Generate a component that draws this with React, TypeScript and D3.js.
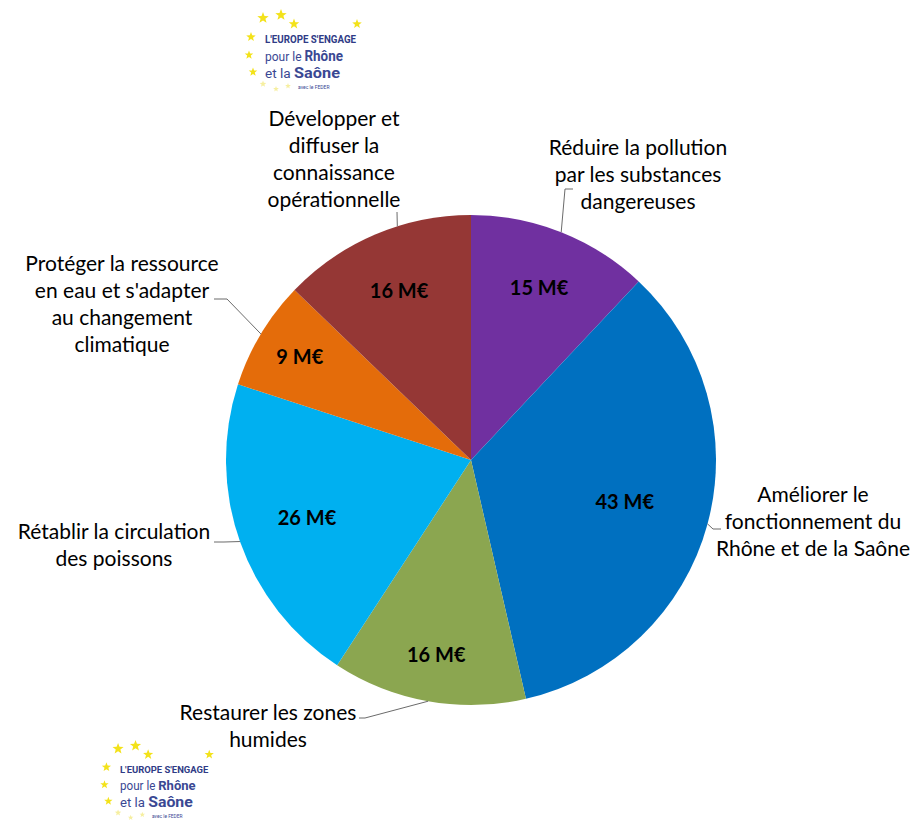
import React, { useEffect, useRef } from 'react';
import * as d3 from 'd3';

// Montants FEDER par objectif (M€), dans l'ordre horaire depuis midi
const categories = [
  "Réduire la pollution par les substances dangereuses",
  "Améliorer le fonctionnement du Rhône et de la Saône",
  "Restaurer les zones humides",
  "Rétablir la circulation des poissons",
  "Protéger la ressource en eau et s'adapter au changement climatique",
  "Développer et diffuser la connaissance opérationnelle",
];
const labelLines = [
  ["Réduire la pollution", "par les substances", "dangereuses"],
  ["Améliorer le", "fonctionnement du", "Rhône et de la Saône"],
  ["Restaurer les zones", "humides"],
  ["Rétablir la circulation", "des poissons"],
  ["Protéger la ressource", "en eau et s'adapter", "au changement", "climatique"],
  ["Développer et", "diffuser la", "connaissance", "opérationnelle"],
];
const values = [15, 43, 16, 26, 9, 16];
const unit = "M€";
const colors = ["#7030a0", "#0070c0", "#8ba650", "#00b0f0", "#e46c0a", "#953735"];

// layout
const W = 916, H = 822;
const cx = 471, cy = 460, R = 245;
const FONT = "Lato, 'Open Sans', sans-serif";
const LINE_H = 27;
const valueLabelRadius = [0.755, 0.65, 0.81, 0.71, 0.815, 0.75];
const labelAnchor = [
  { x: 638, y: 155 }, { x: 813, y: 502 }, { x: 268, y: 720 },
  { x: 114, y: 539 }, { x: 122, y: 271 }, { x: 334, y: 126 },
];
// leader elbows, relative to label anchor; last point goes to the arc
const leaderElbows: [number, number][][] = [
  [[-65, 34], [-73, 34]],
  [[-92, 27], [-100, 27]],
  [[91, -2], [97, -2]],
  [[100, 3], [110, 3]],
  [[92, 28], [105, 28]],
  [[63, 86]],
];
const leaderAngleOverride: (number | null)[] = [null, null, null, null, null, 342.5];

// logo: stars as [x, y, outer radius, faint]
const logoStars: [number, number, number, number][] = [
  [-2, -25, 6, 0], [16, -28, 6, 0], [29, -19, 5.5, 0], [92, -19, 5, 0],
  [-14, -6, 5, 0], [-16, 12, 4.5, 0], [-12, 29, 4.5, 0],
  [-2, 41, 3.5, 1], [11, 46, 3, 1], [23, 43, 3, 1],
];
const logoPlacement = [
  { x: 265, y: 43, s: 1 },
  { x: 120, y: 773, s: 0.97 },
];

const starPath = (r: number) => {
  const pts: [number, number][] = [];
  for (let i = 0; i < 10; i++) {
    const a = (Math.PI / 5) * i - Math.PI / 2;
    const rr = i % 2 === 0 ? r : r * 0.42;
    pts.push([Math.cos(a) * rr, Math.sin(a) * rr]);
  }
  return "M" + pts.map(p => p.join(",")).join("L") + "Z";
};

const App: React.FC = () => {
  const svgRef = useRef<SVGSVGElement | null>(null);

  useEffect(() => {
    if (!svgRef.current) return;
    const svg = d3.select(svgRef.current);
    svg.selectAll("*").remove();

    svg.append("rect").attr("width", W).attr("height", H).attr("fill", "#fff");

    const pie = d3.pie<number>().sort(null).value(d => d);
    const arcs = pie(values);
    const arc = d3.arc<d3.PieArcDatum<number>>().innerRadius(0).outerRadius(R);
    const mid = (d: d3.PieArcDatum<number>) => (d.startAngle + d.endAngle) / 2;
    const polar = (a: number, r: number): [number, number] => [cx + Math.sin(a) * r, cy - Math.cos(a) * r];

    const g = svg.append("g").attr("transform", `translate(${cx},${cy})`);
    g.selectAll("path")
      .data(arcs)
      .join("path")
        .attr("d", arc)
        .attr("fill", (_, i) => colors[i]);

    // leader lines
    const line = d3.line();
    arcs.forEach((d, i) => {
      const a0 = labelAnchor[i];
      const pts: [number, number][] = leaderElbows[i].map(([dx, dy]) => [a0.x + dx, a0.y + dy]);
      const ov = leaderAngleOverride[i];
      pts.push(polar(ov == null ? mid(d) : (ov * Math.PI) / 180, R));
      svg.append("path")
        .attr("d", line(pts))
        .attr("fill", "none")
        .attr("stroke", "#6b6b6b")
        .attr("stroke-width", 1);
    });

    // value labels
    svg.append("g")
      .selectAll("text")
      .data(arcs)
      .join("text")
        .attr("x", (d, i) => polar(mid(d), R * valueLabelRadius[i])[0])
        .attr("y", (d, i) => polar(mid(d), R * valueLabelRadius[i])[1])
        .attr("dy", "0.35em")
        .attr("text-anchor", "middle")
        .attr("font-family", FONT)
        .attr("font-weight", "bold")
        .attr("font-size", 20)
        .attr("fill", "#000")
        .text(d => `${d.data} ${unit}`);

    // category labels
    const lab = svg.append("g")
      .attr("font-family", FONT)
      .attr("font-size", 21)
      .attr("fill", "#000")
      .attr("text-anchor", "middle");
    labelLines.forEach((lines, i) => {
      const t = lab.append("text").attr("aria-label", categories[i]);
      lines.forEach((ln, j) => {
        t.append("tspan")
          .attr("x", labelAnchor[i].x)
          .attr("y", labelAnchor[i].y + j * LINE_H)
          .text(ln);
      });
    });

    // logos
    logoPlacement.forEach(p => {
      const lg = svg.append("g").attr("transform", `translate(${p.x},${p.y}) scale(${p.s})`);
      logoStars.forEach(([x, y, r, faint]) => {
        lg.append("path")
          .attr("d", starPath(r))
          .attr("transform", `translate(${x},${y})`)
          .attr("fill", faint ? "#f6efa0" : "#f3e21a");
      });
      const lf = "Roboto, sans-serif";
      lg.append("text")
        .attr("x", 0).attr("y", 0)
        .attr("font-family", lf).attr("font-weight", "bold").attr("font-size", 10)
        .attr("fill", "#2f3b86")
        .attr("textLength", 91).attr("lengthAdjust", "spacingAndGlyphs")
        .text("L'EUROPE S'ENGAGE");
      const t1 = lg.append("text").attr("x", 0).attr("y", 18)
        .attr("font-family", lf).attr("fill", "#3a4893")
        .attr("textLength", 78).attr("lengthAdjust", "spacingAndGlyphs");
      t1.append("tspan").attr("font-size", 12.5).text("pour le ");
      t1.append("tspan").attr("font-size", 14).attr("font-weight", "bold").text("Rhône");
      const t2 = lg.append("text").attr("x", 0).attr("y", 35)
        .attr("font-family", lf).attr("fill", "#3a4893")
        .attr("textLength", 75).attr("lengthAdjust", "spacingAndGlyphs");
      t2.append("tspan").attr("font-size", 12.5).text("et la ");
      t2.append("tspan").attr("font-size", 15).attr("font-weight", "bold").text("Saône");
      lg.append("text")
        .attr("x", 33).attr("y", 46)
        .attr("font-family", lf).attr("font-size", 5)
        .attr("fill", "#3a4893")
        .text("avec le FEDER");
    });
  }, []);

  return (
    <svg
      ref={svgRef}
      width={W}
      height={H}
      viewBox={`0 0 ${W} ${H}`}
      style={{ position: 'absolute', left: 0, top: 0 }}
    />
  );
};

export default App;
